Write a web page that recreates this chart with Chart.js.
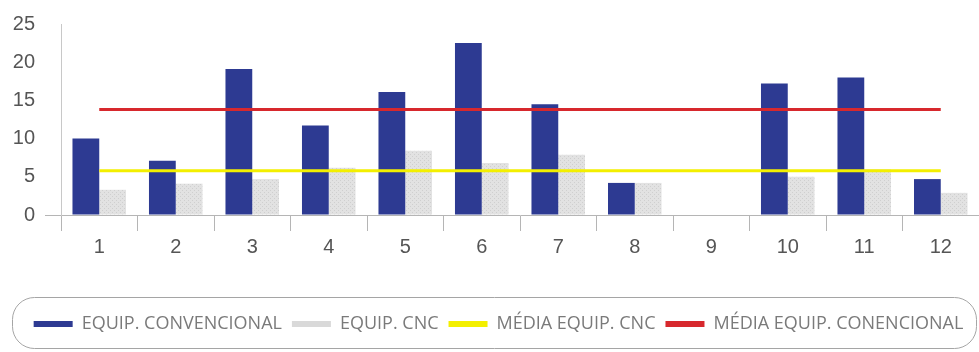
<!DOCTYPE html>
<html lang="pt">
<head>
    <meta charset="UTF-8">
    <title>Equipamentos</title>
    <script src="https://cdn.jsdelivr.net/npm/chart.js"></script>
    <style>
        html, body { margin: 0; padding: 0; background: #fff; }
        #wrap { width: 979px; height: 352px; }
    </style>
</head>
<body>
    <div id="wrap"><canvas id="equipChart" width="979" height="352"></canvas></div>

    <script>
        const labels = ['1', '2', '3', '4', '5', '6', '7', '8', '9', '10', '11', '12'];
        const convencional = [10.0, 7.1, 19.1, 11.7, 16.1, 22.5, 14.5, 4.2, 0, 17.2, 18.0, 4.7];
        const cnc = [3.3, 4.1, 4.7, 6.2, 8.4, 6.8, 7.9, 4.2, 0, 5.0, 6.0, 2.9];
        const mediaCnc = 5.8;
        const mediaConvencional = 13.8;
        const yTicks = [0, 5, 10, 15, 20, 25];
        const legendOrder = ['EQUIP. CONVENCIONAL', 'EQUIP. CNC', 'MÉDIA EQUIP. CNC', 'MÉDIA EQUIP. CONENCIONAL'];

        // light grey dotted fill for the CNC bars
        function dotPattern() {
            const c = document.createElement('canvas');
            c.width = 4; c.height = 4;
            const g = c.getContext('2d');
            g.fillStyle = '#e2e2e2';
            g.fillRect(0, 0, 4, 4);
            g.fillStyle = '#cfcfcf';
            g.fillRect(0, 0, 1, 1);
            g.fillRect(2, 2, 1, 1);
            return g.createPattern(c, 'repeat');
        }

        // nudge the legend row a bit to the right, then frame it with a rounded box
        const legendFrame = {
            id: 'legendFrame',
            afterLayout(chart) {
                chart.legend.left += 9;
                chart.legend.right += 9;
            },
            afterDraw(chart) {
                const boxes = chart.legend.legendHitBoxes;
                if (!boxes || !boxes.length) return;
                const cy = boxes[0].top + boxes[0].height / 2;
                const ctx = chart.ctx;
                const x = 12, y = Math.round(cy - 27), w = chart.width - 15, h = 51, r = 22;
                ctx.save();
                ctx.strokeStyle = '#a5a5a5';
                ctx.lineWidth = 1;
                ctx.beginPath();
                ctx.roundRect(x + 0.5, y + 0.5, w, h, r);
                ctx.stroke();
                ctx.restore();
            }
        };

        const swatch = {
            'EQUIP. CONVENCIONAL': '#2d3a92',
            'EQUIP. CNC': '#d9d9d9',
            'MÉDIA EQUIP. CNC': '#f3ef00',
            'MÉDIA EQUIP. CONENCIONAL': '#d7282d'
        };

        const ctx = document.getElementById('equipChart').getContext('2d');
        new Chart(ctx, {
            data: {
                labels: labels,
                datasets: [
                    {
                        type: 'line',
                        label: 'MÉDIA EQUIP. CNC',
                        data: labels.map(() => mediaCnc),
                        borderColor: '#f3ef00',
                        borderWidth: 3,
                        pointRadius: 0,
                        order: 1
                    },
                    {
                        type: 'line',
                        label: 'MÉDIA EQUIP. CONENCIONAL',
                        data: labels.map(() => mediaConvencional),
                        borderColor: '#d7282d',
                        borderWidth: 3,
                        pointRadius: 0,
                        order: 0
                    },
                    {
                        type: 'bar',
                        label: 'EQUIP. CONVENCIONAL',
                        data: convencional,
                        backgroundColor: '#2d3a92',
                        categoryPercentage: 0.7,
                        barPercentage: 1.0,
                        order: 2
                    },
                    {
                        type: 'bar',
                        label: 'EQUIP. CNC',
                        data: cnc,
                        backgroundColor: dotPattern(),
                        categoryPercentage: 0.7,
                        barPercentage: 1.0,
                        order: 3
                    }
                ]
            },
            options: {
                responsive: false,
                animation: false,
                layout: { padding: { top: 24, right: 0, left: 0, bottom: 9 } },
                plugins: {
                    tooltip: { enabled: false },
                    legend: {
                        position: 'bottom',
                        labels: {
                            boxWidth: 39,
                            boxHeight: 6,
                            padding: 10,
                            color: '#7a7a7a',
                            font: { family: 'Open Sans', size: 18 },
                            sort: (a, b) => legendOrder.indexOf(a.text) - legendOrder.indexOf(b.text),
                            generateLabels: (chart) => chart.data.datasets.map((ds, i) => ({
                                text: ds.label,
                                fillStyle: swatch[ds.label],
                                strokeStyle: 'transparent',
                                lineWidth: 0,
                                fontColor: '#7a7a7a',
                                datasetIndex: i
                            }))
                        }
                    }
                },
                scales: {
                    x: {
                        grid: {
                            display: true,
                            drawOnChartArea: false,
                            offset: true,
                            tickLength: 16,
                            color: '#b5b5b5'
                        },
                        border: { display: true, color: '#b5b5b5' },
                        ticks: {
                            padding: 4,
                            color: '#555',
                            font: { family: 'Liberation Sans', size: 20 }
                        },
                        afterFit: (scale) => { scale.height = 90; }
                    },
                    y: {
                        min: 0,
                        max: 25,
                        afterBuildTicks: (scale) => { scale.ticks = yTicks.map(v => ({ value: v })); },
                        grid: {
                            display: true,
                            drawOnChartArea: false,
                            tickLength: 16,
                            color: (c) => c.tick && c.tick.value === 0 ? '#b5b5b5' : 'transparent'
                        },
                        border: { display: true, color: '#c8c8c8' },
                        ticks: {
                            padding: 10,
                            color: '#555',
                            font: { family: 'Liberation Sans', size: 20 }
                        },
                        afterFit: (scale) => { scale.width = 61; }
                    }
                }
            },
            plugins: [legendFrame]
        });
    </script>
</body>
</html>
